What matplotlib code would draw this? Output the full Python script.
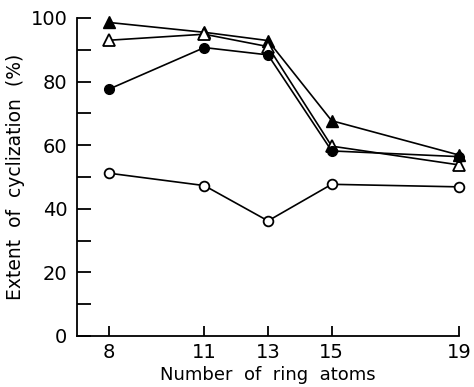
import numpy as np
import matplotlib.pyplot as plt

ring_atoms = [8, 11, 13, 15, 19]
filled_tri = [98.6, 95.5, 92.9, 67.7, 56.9]
open_tri = [93.0, 94.9, 91.0, 59.7, 53.8]
filled_circ = [77.6, 90.7, 88.4, 58.2, 56.4]
open_circ = [51.2, 47.3, 36.2, 47.7, 46.9]

fig = plt.figure(figsize=(4.74, 3.87), dpi=100)
ax = fig.add_axes([0.1624, 0.1318, 0.8060, 0.8217])

lw = 1.2
ax.plot(ring_atoms, filled_tri, '-^', color='black', lw=lw, ms=8, mfc='black', mec='black', clip_on=False)
ax.plot(ring_atoms, open_tri, '-^', color='black', lw=lw, ms=8, mfc='white', mec='black', mew=1.3, clip_on=False)
ax.plot(ring_atoms, filled_circ, '-o', color='black', lw=lw, ms=7, mfc='black', mec='black', clip_on=False)
ax.plot(ring_atoms, open_circ, '-o', color='black', lw=lw, ms=7, mfc='white', mec='black', mew=1.3, clip_on=False)

ax.set_xlim(7, 19)
ax.set_ylim(0, 100)
ax.spines['top'].set_visible(False)
ax.spines['right'].set_visible(False)
ax.spines['left'].set_linewidth(1.3)
ax.spines['bottom'].set_linewidth(1.3)

ax.set_xticks(ring_atoms)
ax.set_xticklabels([str(v) for v in ring_atoms])
ax.set_yticks([0, 20, 40, 60, 80, 100])
ax.set_yticks([10, 30, 50, 70, 90], minor=True)
ax.tick_params(axis='y', which='both', direction='in', length=10, width=1.3, labelsize=14, pad=7)
ax.tick_params(axis='x', direction='in', length=7, width=1.3, labelsize=14, pad=5)

ax.set_xlabel('Number  of  ring  atoms', fontsize=13, labelpad=3)
ax.set_ylabel('Extent  of  cyclization  (%)', fontsize=13.5, labelpad=4)

fig.savefig('out.png', dpi=100)
